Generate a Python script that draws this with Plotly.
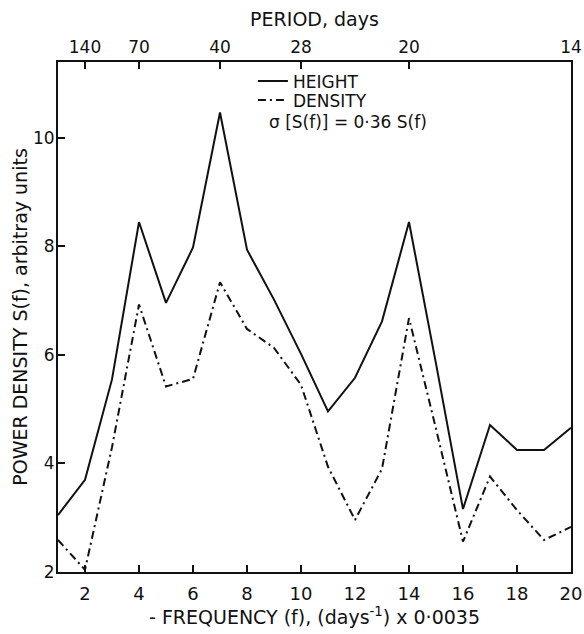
import plotly.graph_objects as go

# Data
frequency = list(range(1, 21))
height = [3.05, 3.70, 5.55, 8.45, 6.96, 7.98, 10.47, 7.94, 7.02, 6.02,
          4.96, 5.58, 6.62, 8.45, 5.84, 3.16, 4.71, 4.25, 4.25, 4.66]
density = [2.59, 2.04, 4.30, 6.93, 5.42, 5.56, 7.34, 6.48, 6.13, 5.45,
           3.94, 2.96, 3.90, 6.68, 4.64, 2.56, 3.76, 3.14, 2.59, 2.83]

x_ticks = [2, 4, 6, 8, 10, 12, 14, 16, 18, 20]
y_ticks = [2, 4, 6, 8, 10]
period_tick_pos = [2, 4, 7, 10, 14, 20]
period_tick_labels = ["140", "70", "40", "28", "20", "14"]

FONT = "DejaVu Sans"
BLACK = "#111111"

fig = go.Figure()
fig.add_trace(go.Scatter(x=frequency, y=height, mode="lines", name="HEIGHT",
                         legend="legend",
                         line=dict(color=BLACK, width=2)))
fig.add_trace(go.Scatter(x=frequency, y=density, mode="lines", name="DENSITY",
                         legend="legend2",
                         line=dict(color=BLACK, width=2, dash="8px,4px,2px,4px")))
# invisible trace so the top (period) axis is drawn
fig.add_trace(go.Scatter(x=[frequency[0], frequency[-1]], y=[height[0], height[-1]],
                         xaxis="x2", mode="lines", line=dict(width=0),
                         showlegend=False, hoverinfo="skip", opacity=0))

fig.add_annotation(text="σ [S(f)] = 0·36 S(f)", xref="paper", yref="paper",
                   x=0.565, y=0.882, xanchor="center", yanchor="middle",
                   showarrow=False,
                   font=dict(family=FONT, size=17, color=BLACK))

legend_style = dict(xanchor="left", yanchor="top", bgcolor="rgba(0,0,0,0)",
                    font=dict(size=17, family=FONT), itemwidth=30)

fig.update_layout(
    width=584, height=634,
    margin=dict(l=58, r=13, t=62, b=62),
    paper_bgcolor="white", plot_bgcolor="white",
    font=dict(family=FONT, size=17, color=BLACK),
    showlegend=True,
    legend=dict(x=0.38, y=0.997, **legend_style),
    legend2=dict(x=0.38, y=0.960, **legend_style),
    xaxis=dict(range=[1, 20], tickvals=x_ticks, ticks="inside", ticklen=7,
               tickwidth=1.5, tickcolor=BLACK, showline=True, linecolor=BLACK,
               linewidth=2, showgrid=False, zeroline=False, automargin=False,
               tickfont=dict(size=18), ticklabelstandoff=4,
               ticklabeloverflow="allow",
               title=dict(text="- FREQUENCY (f), (days<sup>-1</sup>) x 0·0035",
                          font=dict(size=19), standoff=6)),
    xaxis2=dict(range=[1, 20], overlaying="x", side="top", anchor="y",
                tickvals=period_tick_pos, ticktext=period_tick_labels,
                ticks="inside", ticklen=7, tickwidth=1.5, tickcolor=BLACK,
                showline=True, linecolor=BLACK, linewidth=2, showgrid=False,
                zeroline=False, automargin=False, tickfont=dict(size=17),
                ticklabeloverflow="allow",
                title=dict(text="PERIOD, days", font=dict(size=19), standoff=6)),
    yaxis=dict(range=[2, 11.4], tickvals=y_ticks, ticks="inside", ticklen=7,
               tickwidth=1.5, tickcolor=BLACK, showline=True, mirror=True,
               linecolor=BLACK, linewidth=2, showgrid=False, zeroline=False,
               automargin=False,
               tickfont=dict(size=17), ticklabelstandoff=-2,
               title=dict(text="POWER DENSITY S(f), arbitray units",
                          font=dict(size=19), standoff=0)),
)

fig.write_html(
    "out.html",
    config={"displayModeBar": False},
    post_script="document.body.style.margin='0';document.body.style.overflow='hidden';",
)
